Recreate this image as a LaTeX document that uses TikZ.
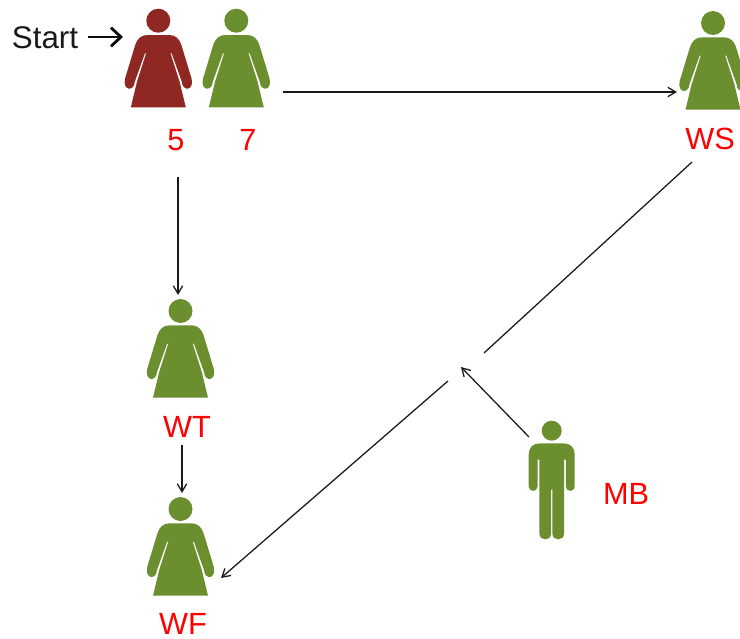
\documentclass[tikz,border=0pt]{standalone}
\usepackage{fontspec}
\setmainfont{Liberation Sans}
\usetikzlibrary{arrows.meta}
\definecolor{figgreen}{HTML}{6B8E2E}
\definecolor{figred}{HTML}{8F2723}
\tikzset{
  x=0.75pt,y=-0.75pt,
  lbl/.style={text=red,font=\fontsize{23}{25}\selectfont,inner sep=0pt},
  startlbl/.style={text=black!90,font=\fontsize{23.5}{25}\selectfont,inner sep=0pt},
  conn/.style={draw=black!90,line width=0.95pt,-{Straight Barb[length=6pt,width=7pt,line width=0.95pt]}},
  plain/.style={draw=black!90,line width=0.95pt},
  thickconn/.style={draw=black!95,line width=2.1pt,-{Straight Barb[length=7.5pt,width=14pt,line width=2.1pt]}},
  woman/.pic={
    \fill[pic actions] (0,0) circle[radius=12];
    \fill[pic actions]
      (-11,14.3) -- (11,14.3) .. controls (17,14.3) and (21,18) .. (23,24)
      -- (33.3,58) .. controls (36,70.5) and (24,71) .. (23.5,61)
      -- (13.5,33) -- (12,32) -- (21.3,61) -- (27.5,86.7)
      -- (-27.5,86.7) -- (-21.3,61) -- (-12,32) -- (-13.5,33)
      -- (-23.5,61) .. controls (-24,71) and (-36,70.5) .. (-33.3,58)
      -- (-23,24) .. controls (-21,18) and (-17,14.3) .. (-11,14.3) -- cycle;
  },
  man/.pic={
    \fill[pic actions] (0,0) circle[radius=10];
    \fill[pic actions]
      (-12,12.7) -- (12,12.7) .. controls (19,12.7) and (23,17) .. (23,24)
      -- (23,56) .. controls (23,61.5) and (14.2,61.5) .. (14.2,56)
      -- (14.2,29) -- (12.3,29) -- (12.3,103)
      .. controls (12.3,110.5) and (0.7,110.5) .. (0.7,103) -- (0.7,59) -- (-0.7,59) -- (-0.7,103)
      .. controls (-0.7,110.5) and (-12.3,110.5) .. (-12.3,103)
      -- (-12.3,29) -- (-14.2,29) -- (-14.2,56)
      .. controls (-14.2,61.5) and (-23,61.5) .. (-23,56)
      -- (-23,24) .. controls (-23,17) and (-19,12.7) .. (-12,12.7) -- cycle;
  }
}
\begin{document}
\begin{tikzpicture}
\useasboundingbox (0,0) rectangle (740,639);
\pic[fill=figred] at (158.3,20.7) {woman};
\pic[fill=figgreen] at (236.3,20.7) {woman};
\pic[fill=figgreen] at (713,23) {woman};
\pic[fill=figgreen] at (180.5,311) {woman};
\pic[fill=figgreen] at (180.5,509) {woman};
\pic[fill=figgreen] at (551.7,430.7) {man};
\node[startlbl] (start) at (45,38) {Start};
\node[lbl] (five) at (176,140) {5};
\node[lbl] (seven) at (248,140) {7};
\node[lbl] (ws) at (710,139) {WS};
\node[lbl] (wt) at (187,427) {WT};
\node[lbl] (wf) at (183,624) {WF};
\node[lbl] (mb) at (626,494) {MB};
\coordinate (startA) at (88,37);
\coordinate (startB) at (123,37);
\coordinate (sevenOut) at (283,92);
\coordinate (wsIn) at (677,92);
\coordinate (fiveOut) at (178,177);
\coordinate (wtIn) at (178,295);
\coordinate (wtOut) at (182,445);
\coordinate (wfIn) at (182,493);
\coordinate (wsOut) at (692,162);
\coordinate (gapA) at (484,353);
\coordinate (gapB) at (448,381);
\coordinate (wfIn2) at (221,578);
\coordinate (mbOut) at (529,437);
\coordinate (mbIn) at (461,367);
\draw[thickconn] (startA) -- (startB);
\draw[conn] (sevenOut) -- (wsIn);
\draw[conn] (fiveOut) -- (wtIn);
\draw[conn] (wtOut) -- (wfIn);
\draw[plain] (wsOut) -- (gapA);
\draw[conn] (gapB) -- (wfIn2);
\draw[conn] (mbOut) -- (mbIn);
\end{tikzpicture}
\end{document}
